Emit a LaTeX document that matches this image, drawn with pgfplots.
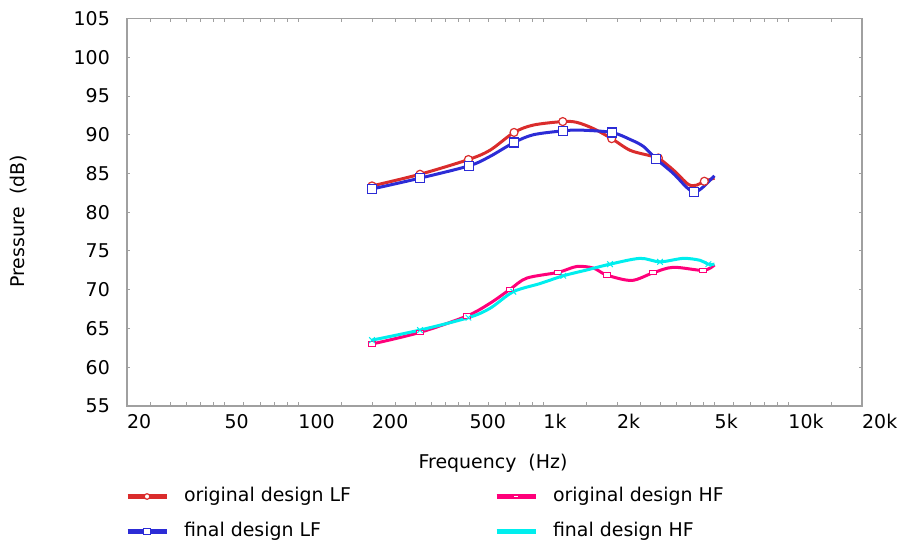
\documentclass[border=0pt]{standalone}
\usepackage{fontspec}
\setmainfont{DejaVu Sans}
\usepackage{pgfplots}
\pgfplotsset{compat=1.18}

\definecolor{origLF}{RGB}{218,44,44}
\definecolor{finalLF}{RGB}{44,44,214}
\definecolor{origHF}{RGB}{255,0,122}
\definecolor{finalHF}{RGB}{0,238,238}
\definecolor{framegray}{RGB}{160,160,160}

\begin{document}
\begin{tikzpicture}[font=\fontsize{19}{22}\selectfont]
\useasboundingbox (0bp,0bp) rectangle (900bp,542bp);
\begin{axis}[
  at={(127bp,136bp)}, anchor=south west,
  scale only axis, width=735bp, height=387.5bp,
  xmode=log, xmin=20, xmax=20000, ymin=55, ymax=105,
  axis line style={draw=framegray, line width=1.3bp},
  tick style={draw=framegray, line width=1bp},
  tick align=inside,
  major tick length=3.5bp, minor tick length=3.5bp,
  xtick={20,50,100,200,500,1000,2000,5000,10000,20000},
  xticklabels={20,50,100,200,500,1k,2k,5k,10k,20k},
  minor xtick={25,30,35,40,45,60,70,80,90,150,250,300,350,400,450,600,700,800,900,1500,2500,3000,3500,4000,4500,6000,7000,8000,9000,15000},
  ytick={55,60,...,105},
  /pgf/number format/assume math mode=true,
  xticklabel style={anchor=north west, inner sep=0pt, yshift=-8bp},
  yticklabel style={anchor=east, inner sep=0pt, xshift=-17bp},
  xlabel={Frequency\ \ (Hz)},
  ylabel={Pressure\ \ (dB)},
  every axis x label/.style={at={(axis description cs:0.498,-0.147)}, anchor=center},
  every axis y label/.style={at={(axis description cs:-0.147,0.477)}, anchor=center, rotate=90},
  legend columns=2,
  legend cell align=left,
  legend style={at={(axis description cs:0.0014,-0.2026)}, anchor=north west,
    xshift=-3bp, yshift=-3bp,
    draw=none, fill=none, inner sep=0pt, outer sep=0pt, row sep=17bp,
    nodes={inner sep=0pt, text height=14bp, text depth=4bp},
    /tikz/every odd column/.append style={column sep=15bp},
    /tikz/every even column/.append style={column sep=143bp}},
  legend image code/.code={\draw[#1, line width=5bp, mark indices={2},
      every mark/.append style={scale=0.7}]
      plot coordinates {(0bp,0bp) (19.5bp,0bp) (39bp,0bp)};},
]

% original design, low-frequency driver
\addplot[origLF, line width=3bp, smooth, mark=*, mark size=4bp,
  mark options={fill=white, draw=origLF, line width=1.2bp},
  mark indices={1,2,3,5,7,10,13,17}] coordinates {
  (200,83.4) (314,84.9) (495,86.8) (606,88.0) (760,90.3) (911,91.25)
  (1201,91.7) (1369,91.6) (1601,90.8) (1903,89.5) (2260,88.0) (2727,87.3)
  (2949,87.0) (3396,85.45) (3908,83.6) (4230,83.5) (4544,84.0) (5000,84.4)
};
\addlegendentry{original design LF}

% original design, high-frequency driver
\addplot[origHF, line width=3bp, smooth, mark=square*, mark size=3.5bp,
  mark options={fill=white, draw=origHF, line width=1bp, yscale=0.6},
  mark indices={1,2,3,5,7,10,12,14}] coordinates {
  (200,63.0) (314,64.5) (487,66.6) (606,68.25) (732,70.05) (856,71.5)
  (1152,72.25) (1369,73.0) (1601,72.8) (1815,71.9) (2296,71.2) (2813,72.2)
  (3396,72.9) (4502,72.5) (5000,73.2)
};
\addlegendentry{original design HF}

% final design, low-frequency driver
\addplot[finalLF, line width=3bp, smooth, mark=square*, mark size=4.5bp,
  mark options={fill=white, draw=finalLF, line width=1.2bp},
  mark indices={1,2,3,5,7,9,12,15}] coordinates {
  (200,83.0) (314,84.4) (499,86.0) (606,87.2) (760,89.0) (911,90.0)
  (1201,90.5) (1413,90.6) (1903,90.3) (2260,89.4) (2562,88.5) (2886,86.9)
  (3396,85.0) (3852,83.2) (4137,82.6) (4434,83.1) (5000,84.7)
};
\addlegendentry{final design LF}

% final design, high-frequency driver
\addplot[finalHF, line width=3bp, smooth, mark=x, mark size=4bp,
  mark options={draw=finalHF, line width=1bp},
  mark indices={1,2,3,5,7,9,11,14}] coordinates {
  (200,63.5) (314,64.8) (495,66.4) (606,67.6) (755,69.75) (970,70.8)
  (1207,71.8) (1504,72.55) (1873,73.3) (2483,74.05) (2996,73.6) (3730,74.05)
  (4364,73.8) (4718,73.3) (5000,73.3)
};
\addlegendentry{final design HF}

\end{axis}
\end{tikzpicture}
\end{document}
